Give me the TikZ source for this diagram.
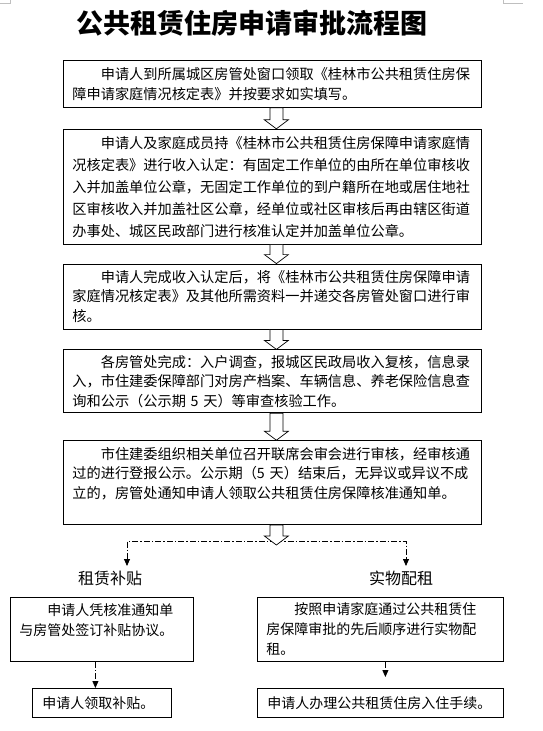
\documentclass[tikz,border=0pt]{standalone}
\usepackage{fontspec}
\setmainfont{Noto Sans CJK SC}
\usetikzlibrary{positioning,arrows.meta,calc}

% hollow block arrow, #1 = top point, #2 = tip point
\newcommand{\holarrow}[2]{%
  \draw[holarrow] let \p1=#1, \p2=#2 in
    (\x1-2.5pt,\y1) -- (\x1-2.5pt,\y2+9pt) -- (\x1-8pt,\y2+9pt) -- (\x1+4pt,\y2)
    -- (\x1+16pt,\y2+9pt) -- (\x1+10.5pt,\y2+9pt) -- (\x1+10.5pt,\y1) -- cycle;}

\begin{document}
\begin{tikzpicture}[
    x=1pt, y=-1pt,
    >={Triangle[width=6pt,length=7pt]},
    flowbox/.style={rectangle, draw, line width=0.8pt, inner xsep=9pt, inner ysep=2pt,
        text width=400pt, align=left, font=\fontsize{14.2}{19.5}\selectfont},
    subbox/.style={rectangle, draw, line width=0.8pt, inner xsep=9pt, inner ysep=2pt,
        anchor=north west, align=left, font=\fontsize{14}{20}\selectfont},
    holarrow/.style={draw, fill=white, line width=0.7pt},
    splitline/.style={draw, ->, line width=0.8pt, dash pattern=on 6pt off 2pt on 1.5pt off 2pt},
    branchlabel/.style={font=\fontsize{16}{18}\selectfont, inner sep=0pt}
]
    \useasboundingbox (0,0) rectangle (542,731);

    % page corner marks
    \draw[gray!50, line width=0.5pt] (0,3) -- (10,3) -- (10,0);
    \draw[gray!50, line width=0.5pt] (503,0) -- (503,3) -- (523,3);

    \node[font=\fontsize{27}{30}\selectfont\bfseries] (title) at (252,23) {公共租赁住房申请审批流程图};

    \node[flowbox, anchor=north west, minimum height=47pt] (form) at (63,60)
        {\hspace*{2em}申请人到所属城区房管处窗口领取《桂林市公共租赁住房保\\
         障申请家庭情况核定表》并按要求如实填写。};
    \node[flowbox, below=21pt of form, minimum height=115pt, font=\fontsize{14.2}{22}\selectfont] (income)
        {\hspace*{2em}申请人及家庭成员持《桂林市公共租赁住房保障申请家庭情\\
         况核定表》进行收入认定：有固定工作单位的由所在单位审核收\\
         入并加盖单位公章，无固定工作单位的到户籍所在地或居住地社\\
         区审核收入并加盖社区公章，经单位或社区审核后再由辖区街道\\
         办事处、城区民政部门进行核准认定并加盖单位公章。};
    \node[flowbox, below=19pt of income, minimum height=65pt] (submit)
        {\hspace*{2em}申请人完成收入认定后，将《桂林市公共租赁住房保障申请\\
         家庭情况核定表》及其他所需资料一并递交各房管处窗口进行审\\
         核。};
    \node[flowbox, below=20pt of submit, minimum height=63pt] (verify)
        {\hspace*{2em}各房管处完成：入户调查，报城区民政局收入复核，信息录\\
         入，市住建委保障部门对房产档案、车辆信息、养老保险信息查\\
         询和公示（公示期 5 天）等审查核验工作。};
    \node[flowbox, below=27pt of verify, minimum height=84pt] (notice)
        {\hspace*{2em}市住建委组织相关单位召开联席会审会进行审核，经审核通\\
         过的进行登报公示。公示期（5 天）结束后，无异议或异议不成\\
         立的，房管处通知申请人领取公共租赁住房保障核准通知单。\\
         \mbox{}};

    % split into the two ways
    \coordinate (fork) at (276,541);
    \coordinate (forktip) at (272,545);
    \coordinate (splitL) at (127,566);
    \coordinate (splitR) at (406,566);
    \node[branchlabel] (rentlab) at (110,578) {租赁补贴};
    \node[branchlabel] (matlab) at (401,578) {实物配租};

    \node[subbox, text width=165pt, minimum height=64pt] (apply) at (10,597)
        {\hspace*{2em}申请人凭核准通知单\\
         与房管处签订补贴协议。\\
         \mbox{}};
    \node[subbox, text width=228pt, minimum height=64pt] (allot) at (257,597)
        {\hspace*{2em}按照申请家庭通过公共租赁住\\
         房保障审批的先后顺序进行实物配\\
         租。};
    \node[subbox, inner xsep=10pt, text width=119pt, minimum height=29pt] (receive) at (32,688)
        {申请人领取补贴。};
    \node[subbox, inner xsep=10pt, text width=226pt, minimum height=29pt] (checkin) at (257,688)
        {申请人办理公共租赁住房入住手续。};

    \draw[splitline] (fork) -| (splitL);
    \draw[splitline] (fork) -| (splitR);
    \draw[splitline] ([xshift=-6.5pt]apply.south) -- ([xshift=-6.5pt]receive.north);
    \draw[splitline] ([xshift=5pt]allot.south) -- ([xshift=5pt,yshift=11pt]checkin.north);

    \holarrow{(form.south)}{(income.north)}
    \holarrow{(income.south)}{(submit.north)}
    \holarrow{(submit.south)}{(verify.north)}
    \holarrow{(verify.south)}{(notice.north)}
    \holarrow{(notice.south)}{(forktip)}
\end{tikzpicture}
\end{document}
